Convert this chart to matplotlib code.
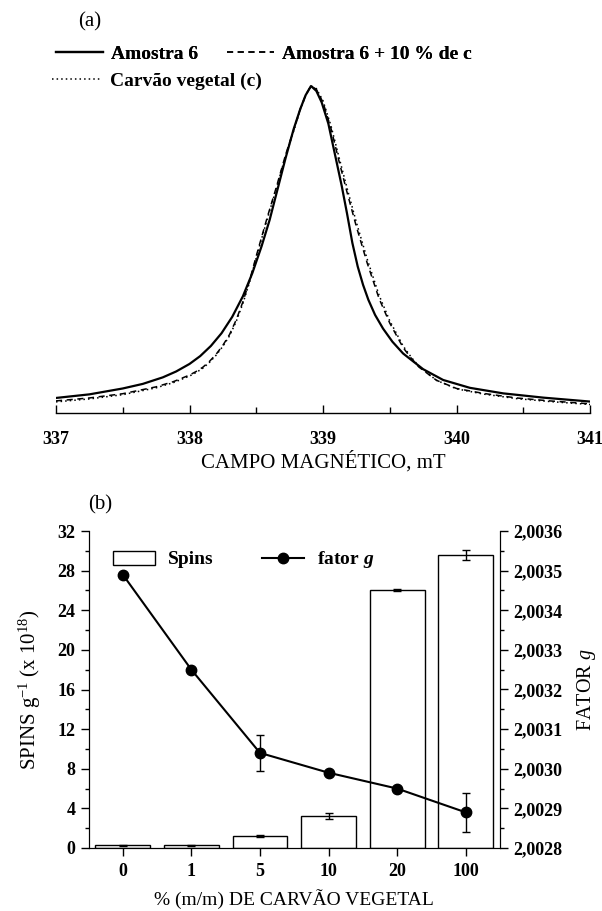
import matplotlib
matplotlib.use("Agg")
import matplotlib.pyplot as plt
from matplotlib.lines import Line2D
from matplotlib.patches import Patch
from matplotlib.ticker import MultipleLocator, FuncFormatter

plt.rcParams["font.family"] = ["Liberation Serif", "DejaVu Serif"]
plt.rcParams["mathtext.fontset"] = "custom"
plt.rcParams["mathtext.rm"] = "Liberation Serif"
plt.rcParams["mathtext.it"] = "Liberation Serif:italic"
plt.rcParams["mathtext.bf"] = "Liberation Serif:bold"
plt.rcParams["mathtext.bfit"] = "Liberation Serif:italic:bold"

# (a) EPR spectra (intensity in arbitrary units)
field_a6 = [337.00, 337.25, 337.50, 337.65, 337.80, 337.90, 338.00, 338.08, 338.16,
            338.24, 338.32, 338.40, 338.47, 338.54, 338.60, 338.66, 338.72, 338.78,
            338.83, 338.87, 338.91, 338.95, 338.99, 339.04, 339.09, 339.14, 339.18,
            339.22, 339.26, 339.30, 339.34, 339.39, 339.45, 339.52, 339.60, 339.75,
            339.90, 340.10, 340.35, 340.65, 341.00]
int_a6 = [0.046, 0.057, 0.075, 0.089, 0.109, 0.127, 0.150, 0.174, 0.205,
          0.244, 0.294, 0.357, 0.427, 0.510, 0.590, 0.685, 0.780, 0.868,
          0.930, 0.972, 1.000, 0.985, 0.950, 0.885, 0.790, 0.695, 0.610,
          0.520, 0.448, 0.392, 0.346, 0.300, 0.258, 0.218, 0.182, 0.134,
          0.101, 0.077, 0.060, 0.047, 0.035]

field_mix = [337.00, 337.25, 337.50, 337.75, 337.88, 338.00, 338.05, 338.10, 338.15,
             338.20, 338.25, 338.30, 338.35, 338.40, 338.45, 338.50, 338.58, 338.65,
             338.72, 338.78, 338.83, 338.87, 338.91, 338.95, 339.00, 339.06, 339.12,
             339.18, 339.25, 339.33, 339.42, 339.50, 339.60, 339.66, 339.72, 339.85,
             340.00, 340.20, 340.45, 340.70, 341.00]
int_mix = [0.037, 0.046, 0.059, 0.080, 0.096, 0.116, 0.127, 0.140, 0.158,
           0.180, 0.207, 0.240, 0.285, 0.340, 0.405, 0.480, 0.595, 0.690,
           0.790, 0.865, 0.930, 0.972, 1.000, 0.990, 0.950, 0.870, 0.770,
           0.675, 0.570, 0.460, 0.350, 0.275, 0.200, 0.168, 0.140, 0.100,
           0.075, 0.060, 0.046, 0.037, 0.028]

field_carvao = [337.00, 337.25, 337.50, 337.75, 337.88, 338.00, 338.05, 338.10, 338.15,
                338.20, 338.25, 338.30, 338.35, 338.40, 338.45, 338.50, 338.58, 338.65,
                338.72, 338.78, 338.83, 338.87, 338.91, 338.95, 339.00, 339.06, 339.12,
                339.18, 339.25, 339.33, 339.42, 339.50, 339.60, 339.66, 339.72, 339.85,
                340.00, 340.20, 340.45, 340.70, 341.00]
int_carvao = [0.034, 0.043, 0.056, 0.077, 0.093, 0.113, 0.124, 0.137, 0.155,
              0.177, 0.204, 0.236, 0.280, 0.335, 0.400, 0.475, 0.590, 0.686,
              0.787, 0.862, 0.928, 0.971, 1.000, 0.992, 0.955, 0.878, 0.782,
              0.688, 0.583, 0.472, 0.360, 0.282, 0.205, 0.171, 0.142, 0.100,
              0.074, 0.058, 0.044, 0.035, 0.026]

# (b) spins and g factor vs % charcoal
categorias = ["0", "1", "5", "10", "20", "100"]
spins = [0.3, 0.3, 1.2, 3.2, 26.0, 29.6]
spins_err = [0.05, 0.05, 0.1, 0.3, 0.1, 0.5]
fator_g = [2.00349, 2.00325, 2.00304, 2.00299, 2.00295, 2.00289]
fator_g_err = [0.0, 0.0, 0.000045, 0.0, 0.0, 0.00005]

fig = plt.figure(figsize=(6.02, 9.11), dpi=100)
W, H = 602.0, 911.0

# ---------------- panel (a)
ax1 = fig.add_axes([56 / W, 1 - 413 / H, 534 / W, 373 / H])
l1, = ax1.plot(field_a6, int_a6, color="black", lw=1.6, label="Amostra 6")
l2, = ax1.plot(field_mix, int_mix, color="black", lw=1.1, ls=(0, (4, 3)),
               label="Amostra 6 + 10 % de c")
l3, = ax1.plot(field_carvao, int_carvao, color="black", lw=1.1, ls=(0, (1, 2)),
               label="Carvão vegetal (c)")
ax1.set_xlim(337, 341)
ax1.set_ylim(0, 373 / 327)
for s in ["left", "right", "top"]:
    ax1.spines[s].set_visible(False)
ax1.spines["bottom"].set_linewidth(1.0)
ax1.set_yticks([])
ax1.xaxis.set_major_locator(MultipleLocator(1))
ax1.xaxis.set_minor_locator(MultipleLocator(0.5))
ax1.tick_params(axis="x", which="major", direction="in", length=6, width=1,
                labelsize=13, pad=13)
ax1.tick_params(axis="x", which="minor", direction="in", length=4, width=1)
for t in ax1.get_xticklabels():
    t.set_fontweight("bold")
ax1.set_xlabel("CAMPO MAGNÉTICO, mT", fontsize=15, labelpad=2)

leg1 = fig.legend(handles=[l1, l2], ncol=2, frameon=False,
                  loc="center left", bbox_to_anchor=(56 / W, 1 - 54 / H),
                  prop={"weight": "bold", "size": 14},
                  handlelength=2.42, handletextpad=0.41, columnspacing=1.5,
                  borderpad=0, borderaxespad=0)
fig.add_artist(leg1)
fig.legend(handles=[l3], frameon=False,
           loc="center left", bbox_to_anchor=(52 / W, 1 - 81 / H),
           prop={"weight": "bold", "size": 14},
           handlelength=2.47, handletextpad=0.5,
           borderpad=0, borderaxespad=0)
fig.text(90 / W, 1 - 22 / H, "(a)", fontsize=15, ha="center", va="center")

# ---------------- panel (b)
ax2 = fig.add_axes([88.5 / W, 1 - 848 / H, 411.5 / W, 317 / H])
x = list(range(len(categorias)))
ax2.bar(x, spins, width=0.8, color="white", edgecolor="black",
        linewidth=1.0, yerr=spins_err, capsize=3,
        error_kw={"elinewidth": 1, "capthick": 1}, zorder=2)
ax2.set_xlim(-0.5, 5.5)
ax2.set_ylim(0, 32)
ax2.set_xticks(x)
ax2.set_xticklabels(categorias)
ax2.yaxis.set_major_locator(MultipleLocator(4))
ax2.yaxis.set_minor_locator(MultipleLocator(2))
ax2.spines["top"].set_visible(False)
ax2.tick_params(axis="both", which="major", direction="out", length=6, width=1,
                labelsize=13)
ax2.tick_params(axis="y", which="minor", direction="out", length=3, width=1)
ax2.tick_params(axis="x", pad=5)
for t in ax2.get_xticklabels() + ax2.get_yticklabels():
    t.set_fontweight("bold")
ax2.set_xlabel("% (m/m) DE CARVÃO VEGETAL", fontsize=14, labelpad=6)
ax2.set_ylabel("SPINS g$^{-1}$ (x 10$^{18}$)", fontsize=15, labelpad=10)

ax3 = ax2.twinx()
ax3.set_position(ax2.get_position())
ax3.errorbar(x, fator_g, yerr=fator_g_err, color="black", lw=1.5,
             marker="o", markersize=7.5, capsize=3, elinewidth=1, capthick=1)
ax3.set_ylim(2.0028, 2.0036)
ax3.yaxis.set_major_locator(MultipleLocator(0.0001))
ax3.yaxis.set_minor_locator(MultipleLocator(0.00005))
ax3.yaxis.set_major_formatter(FuncFormatter(lambda v, p: f"{v:.4f}".replace(".", ",")))
ax3.spines["top"].set_visible(False)
ax3.tick_params(axis="y", which="major", direction="out", length=6, width=1,
                labelsize=13)
ax3.tick_params(axis="y", which="minor", direction="out", length=3, width=1)
for t in ax3.get_yticklabels():
    t.set_fontweight("bold")
ax3.set_ylabel("FATOR $g$", fontsize=14.5, labelpad=9)

h_spins = Patch(facecolor="white", edgecolor="black", linewidth=1.0)
h_g = Line2D([], [], color="black", lw=1.5, marker="o", markersize=7.5)
ax2.legend(handles=[h_spins, h_g], labels=["Spins", "fator $\\mathbfit{g}$"],
           ncol=2, frameon=False, loc="center left",
           bbox_to_anchor=((113 - 88.5) / 411.5, (848 - 560) / 317),
           prop={"weight": "bold", "size": 14},
           handlelength=2.15, handleheight=0.75, handletextpad=0.67,
           columnspacing=2.5, borderpad=0, borderaxespad=0)
fig.text(100 / W, 1 - 505 / H, "(b)", fontsize=15, ha="center", va="center")

fig.savefig("out.png", dpi=100)
